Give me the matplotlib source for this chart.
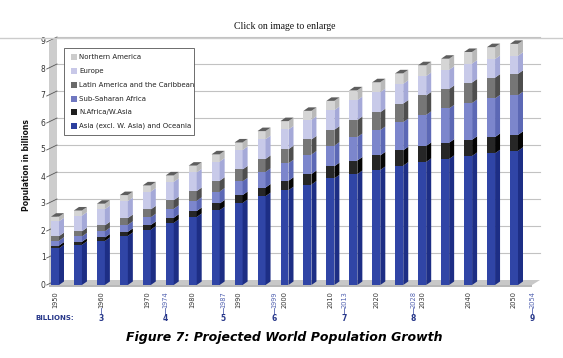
import matplotlib
matplotlib.use('Agg')
import matplotlib.pyplot as plt
from matplotlib.patches import Rectangle
from matplotlib.lines import Line2D

# data (billions)
years = [1950, 1955, 1960, 1965, 1970, 1975, 1980, 1985, 1990, 1995, 2000,
         2005, 2010, 2015, 2020, 2025, 2030, 2035, 2040, 2045, 2050]
asia = [1.36, 1.49, 1.63, 1.82, 2.05, 2.30, 2.52, 2.77, 3.04, 3.29, 3.51,
        3.72, 3.95, 4.11, 4.26, 4.42, 4.56, 4.67, 4.78, 4.88, 4.97]
nafr = [0.10, 0.11, 0.13, 0.15, 0.17, 0.19, 0.22, 0.25, 0.29, 0.32, 0.35,
        0.39, 0.45, 0.50, 0.54, 0.57, 0.59, 0.60, 0.60, 0.60, 0.59]
ssa = [0.18, 0.20, 0.23, 0.26, 0.29, 0.33, 0.38, 0.44, 0.51, 0.58, 0.65,
       0.72, 0.76, 0.87, 0.94, 1.04, 1.15, 1.27, 1.36, 1.43, 1.47]
latam = [0.17, 0.19, 0.22, 0.25, 0.29, 0.32, 0.36, 0.40, 0.44, 0.48, 0.52,
         0.56, 0.59, 0.63, 0.66, 0.69, 0.72, 0.72, 0.76, 0.77, 0.79]
europe = [0.55, 0.58, 0.60, 0.63, 0.66, 0.68, 0.69, 0.71, 0.72, 0.73, 0.73,
          0.73, 0.73, 0.74, 0.74, 0.73, 0.72, 0.71, 0.70, 0.69, 0.67]
nam = [0.17, 0.19, 0.20, 0.22, 0.23, 0.24, 0.25, 0.27, 0.28, 0.30, 0.31,
       0.33, 0.34, 0.36, 0.37, 0.39, 0.40, 0.41, 0.43, 0.44, 0.44]

series_names = ['Asia (excl. W. Asia) and Oceania', 'N.Africa/W.Asia', 'Sub-Saharan Africa',
                'Latin America and the Caribbean', 'Europe', 'Northern America']
series = [asia, nafr, ssa, latam, europe, nam]
front_cols = ['#3045a6', '#262626', '#7c86cc', '#767676', '#c8cae9', '#d5d5d5']
side_cols = ['#1d2e85', '#050505', '#5c68b5', '#4e4e4e', '#a5a9d8', '#b9b9b9']
legend_cols = ['#2b3f9e', '#1e1e1e', '#7078c0', '#6a6a6a', '#c8c8e8', '#cccccc']

decade_labels = [1950, 1960, 1970, 1980, 1990, 2000, 2010, 2020, 2030, 2040, 2050]
billion_years = [1960, 1974, 1987, 1999, 2013, 2028, 2054]
billion_marks = ['3', '4', '5', '6', '7', '8', '9']
yticks = [0, 1, 2, 3, 4, 5, 6, 7, 8, 9]

W, H = 563, 358
navy = '#28388a'
blue_lbl = '#5262b0'

fig = plt.figure(figsize=(W / 100, H / 100), dpi=100)

# pixel helpers
def fx(x):
    return x / W

def fy(y):
    return 1 - y / H

PPY = 4.59      # px per year
PPB = 27.0      # px per billion
X0 = 55         # px of 1950
Y0 = 285        # px of 0

ax_l, ax_r, ax_t, ax_b = 48, 550, 35, 290
ax = fig.add_axes([fx(ax_l), fy(ax_b), (ax_r - ax_l) / W, (ax_b - ax_t) / H])
ax.set_xlim(1950 + (ax_l - X0) / PPY, 1950 + (ax_r - X0) / PPY)
ax.set_ylim((Y0 - ax_b) / PPB, (Y0 - ax_t) / PPB)
ax.axis('off')

# 3d sizes in data units
wdx = 8 / PPY
wdy = 5 / PPB
xwf = 1950 + (49 - X0) / PPY
xwb = xwf + wdx
xend = 1950 + (532 - X0) / PPY
bw = 8 / PPY
bdx = 5 / PPY
bdy = 3.5 / PPB

# back wall, floor, grid
ax.fill([xwf, xwb, xwb, xwf], [0, wdy, 9 + wdy, 9], color='#cdcdcd', lw=0, zorder=1)
ax.fill([xwf, xend, xend + wdx, xwb], [0, 0, wdy, wdy], color='#c8c8c8', lw=0, zorder=1)
ax.fill([xwf, xend, xend, xwf], [0, 0, -0.06, -0.06], color='#b8b8b8', lw=0, zorder=1)
for v in yticks[1:]:
    ax.plot([xwb, xend + wdx], [v + wdy, v + wdy], color='#c2c2c2', lw=0.8, zorder=1)
for v in yticks:
    ax.plot([xwf - 0.5, xwb], [v, v + wdy], color='#555555', lw=0.6, zorder=2, clip_on=False)
    ax.text(xwf - 0.75, v, str(v), ha='right', va='center', fontsize=5.5,
            color='#333333', clip_on=False)

# stacked 3d bars
bottom = [0.0] * len(years)
for k, vals in enumerate(series):
    ax.bar(years, vals, width=bw, bottom=bottom, color=front_cols[k], lw=0, zorder=3)
    for i, yr in enumerate(years):
        b = bottom[i]
        t = b + vals[i]
        x1 = yr + bw / 2
        ax.fill([x1, x1 + bdx, x1 + bdx, x1], [b, b + bdy, t + bdy, t],
                color=side_cols[k], lw=0, zorder=3)
    bottom = [bottom[i] + vals[i] for i in range(len(years))]
# caps
for i, yr in enumerate(years):
    t = bottom[i]
    xl = yr - bw / 2
    ax.fill([xl, xl + bdx, xl + bw + bdx, xl + bw], [t, t + bdy, t + bdy, t],
            color='#5e5e5e', lw=0, zorder=4)

# x labels
xt = ax.get_xaxis_transform()
for yr in decade_labels:
    ax.text(yr, -0.004, str(yr), rotation=90, ha='center', va='top', fontsize=4.8,
            color='#333333', transform=xt, clip_on=False)
nudge = {1999: -1.3, 1987: -0.4}
for yr, m in zip(billion_years, billion_marks):
    xp = yr + nudge.get(yr, 0)
    if yr not in decade_labels:
        ax.text(xp, -0.004, str(yr), rotation=90, ha='center', va='top', fontsize=4.8,
                color=blue_lbl, transform=xt, clip_on=False)
    # short vertical tick between year and billions mark
    ax.plot([xp, xp], [-0.072, -0.094], color=blue_lbl, lw=0.6, transform=xt, clip_on=False)
    ax.text(xp, -0.110, m, ha='center', va='center', fontsize=5.5, fontweight='bold',
            color=navy, transform=xt, clip_on=False)

fig.text(fx(55), fy(318), 'BILLIONS:', ha='center', va='center', fontsize=5,
         fontweight='bold', color=navy)

# y label
fig.text(fx(27), fy(165), 'Population in billions', rotation=90, ha='center',
         va='center', fontsize=5.5, fontweight='bold', color='#111111')

# legend box
fig.patches.append(Rectangle((fx(64), fy(135)), 130 / W, 87 / H, transform=fig.transFigure,
                             facecolor='white', edgecolor='#555555', lw=0.6, zorder=5))
rows = [57, 71, 85, 99, 112, 126]
for j, k in enumerate(range(len(series) - 1, -1, -1)):
    ry = rows[j]
    fig.patches.append(Rectangle((fx(71), fy(ry + 2.8)), 5.7 / W, 5.7 / H,
                                 transform=fig.transFigure, facecolor=legend_cols[k],
                                 edgecolor='none', zorder=6))
    fig.text(fx(79), fy(ry), series_names[k], ha='left', va='center', fontsize=5,
             color='#222222', zorder=6)

# header and caption
fig.text(fx(285), fy(26.5), 'Click on image to enlarge', ha='center', va='center',
         fontsize=7, family='Liberation Serif', color='#111111')
fig.lines.append(Line2D([0, 1], [fy(38), fy(38)], transform=fig.transFigure,
                        color='#cccccc', lw=1))
fig.text(fx(284), fy(337), 'Figure 7: Projected World Population Growth', ha='center',
         va='center', fontsize=9, fontweight='bold', fontstyle='italic', color='black')

plt.savefig('out.png', dpi=100)
